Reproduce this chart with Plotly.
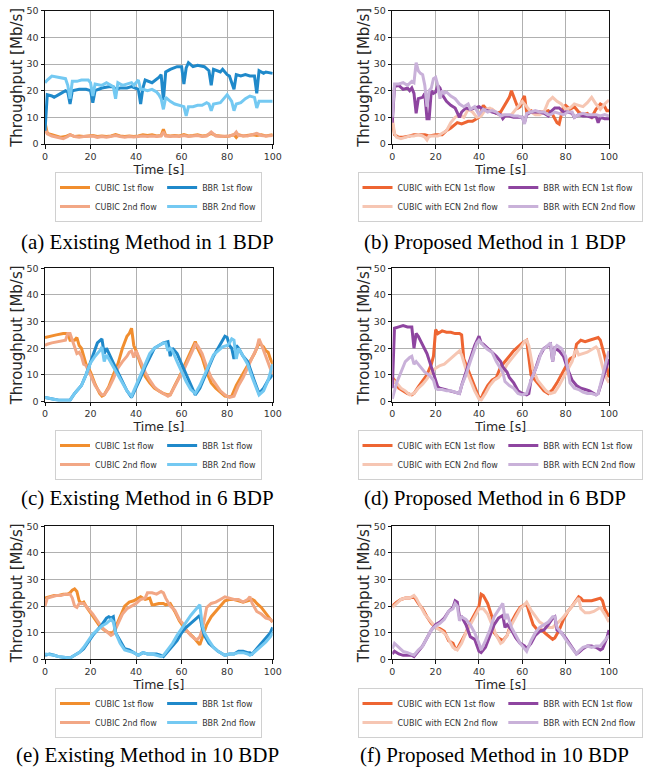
import plotly.graph_objects as go

# ---------------- Panel (a): Existing Method in 1 BDP ----------------
A_CUBIC1_T = [0, 1, 3, 5, 7, 9, 11, 13, 15, 17, 19, 21, 23, 25, 27, 29, 31, 33, 35, 37, 39, 41, 43, 45, 47, 49, 51, 52, 53, 55, 57, 59, 61, 63, 65, 67, 69, 71, 73, 75, 77, 79, 81, 83, 84, 85, 87, 89, 91, 93, 95, 97, 100]
A_CUBIC1_Y = [8, 4, 3.5, 3, 2.5, 2.8, 3.5, 2.8, 3, 2.8, 3, 3.2, 2.8, 3, 2.8, 3, 3.5, 3, 2.8, 3, 2.8, 3, 3.5, 3.2, 3.5, 3, 3.2, 5.5, 3.2, 3, 3.2, 3, 3.5, 3, 3.2, 3.5, 3, 3.2, 4, 3.2, 3, 2.8, 3, 3.5, 2.5, 3.5, 3, 3.2, 3.5, 3.2, 3.5, 3, 3.5]
A_CUBIC2_T = [0, 1, 3, 5, 8, 10, 11, 13, 15, 17, 19, 21, 23, 25, 27, 29, 31, 33, 35, 37, 39, 41, 43, 45, 47, 49, 51, 52, 53, 55, 57, 59, 61, 63, 65, 67, 69, 71, 73, 75, 77, 79, 81, 83, 84, 85, 87, 89, 91, 93, 95, 97, 100]
A_CUBIC2_Y = [6, 3.8, 3, 2.5, 2, 2.8, 3.5, 2.8, 2.5, 2.8, 2.8, 3, 2.5, 2.8, 2.5, 2.8, 3.2, 2.8, 2.5, 2.8, 2.6, 2.8, 3, 2.8, 3, 2.8, 3, 4.5, 3, 2.8, 3, 2.8, 3.2, 2.8, 3, 3.2, 2.8, 3, 4.5, 3, 2.8, 2.8, 3, 3.5, 4.5, 3.2, 3, 3, 3.5, 4, 3.2, 3, 3.2]
A_BBR1_T = [0, 1, 3, 4, 7, 9, 10, 11, 12, 15, 18, 20, 21, 22, 25, 28, 30, 31, 33, 36, 38, 40, 41, 42, 43, 44, 47, 50, 51, 52, 53, 55, 58, 60, 61, 62, 63, 65, 67, 70, 72, 73, 74, 77, 78, 80, 81, 83, 84, 86, 88, 90, 92, 93, 94, 96, 97, 100]
A_BBR1_Y = [5, 18.5, 18, 17.5, 19, 20, 19.5, 15, 20, 20.5, 20.5, 20, 15.5, 20, 21, 21.5, 21.5, 20.5, 21, 21, 21.5, 21, 20.5, 15, 21, 24, 23, 25, 26, 16.5, 27, 28, 29, 29, 22.5, 28.5, 30.5, 29, 29.5, 29, 27.5, 22, 28, 27, 28, 26, 25.5, 20.5, 26, 25.5, 26, 25.5, 25.5, 19, 27.5, 26.5, 27, 26.5]
A_BBR2_T = [0, 1, 3, 6, 9, 10, 11, 12, 14, 16, 19, 20, 21, 22, 25, 27, 29, 30, 31, 32, 34, 36, 38, 39, 41, 42, 43, 45, 47, 49, 50, 51, 52, 53, 55, 57, 59, 61, 62, 63, 65, 67, 69, 71, 72, 73, 74, 77, 79, 80, 82, 83, 84, 86, 88, 90, 92, 93, 94, 97, 100]
A_BBR2_Y = [23, 24, 25.5, 25, 24.5, 22, 17, 23.5, 23.5, 24, 24, 23, 18, 22.5, 22, 23, 22, 21.5, 17, 23, 22, 22.5, 23, 22, 24, 20.5, 20.5, 20, 20.5, 19.5, 18.5, 17, 13, 17.5, 16, 15, 14.5, 14, 10.5, 14, 14, 14.5, 14.5, 15.5, 15, 12.5, 15, 15.5, 17.5, 18.5, 16, 12.5, 15, 15.5, 17, 18, 17.5, 13.5, 16, 16, 16]

# ---------------- Panel (b): Proposed Method in 1 BDP ----------------
B_CUBIC1_T = [0, 1, 3, 5, 8, 10, 13, 15, 17, 20, 23, 25, 27, 30, 32, 35, 37, 40, 42, 44, 46, 48, 50, 52, 54, 55, 56, 57, 58, 59, 60, 61, 62, 64, 66, 68, 70, 72, 74, 76, 77, 78, 79, 80, 82, 84, 86, 88, 90, 92, 94, 96, 98, 99, 100]
B_CUBIC1_Y = [8, 3.5, 2.5, 2.5, 3, 3.5, 3.5, 3.5, 3, 3.5, 3.5, 5, 6, 8, 7.5, 8.5, 8.5, 10, 14.5, 12.5, 13, 11.5, 12, 15, 17.5, 20, 18, 16, 13.5, 14, 16.5, 18, 12, 12.5, 11.5, 12, 12, 12.5, 11, 8, 7.5, 11, 14, 14.5, 13, 14, 12, 11, 11.5, 10, 13, 15, 14, 12.5, 12.5]
B_CUBIC2_T = [0, 1, 2, 4, 6, 8, 10, 12, 14, 15, 16, 17, 19, 21, 23, 25, 27, 29, 31, 33, 35, 37, 39, 41, 43, 45, 47, 49, 51, 53, 55, 57, 59, 60, 62, 64, 66, 68, 70, 72, 74, 76, 78, 80, 82, 84, 86, 88, 90, 92, 94, 96, 98, 100]
B_CUBIC2_Y = [10, 4, 2.5, 2, 2.5, 3, 3, 3.5, 3, 2.5, 1.5, 3, 3, 3, 4, 5, 8, 10, 11, 10, 13, 12, 10, 10.5, 13, 13.5, 12.5, 11, 11, 10.5, 11, 13, 15, 16, 14, 12, 11, 11, 12, 16, 17.5, 16, 15, 13, 13.5, 15, 14.5, 14, 15.5, 17.5, 15, 13, 15, 16.5]
B_BBR1_T = [0, 1, 3, 5, 7, 8, 9, 10, 11, 12, 14, 15, 16, 17, 18, 19, 20, 21, 22, 23, 25, 27, 29, 30, 31, 32, 34, 36, 38, 40, 42, 44, 46, 48, 50, 51, 52, 54, 56, 58, 60, 61, 62, 64, 66, 68, 70, 72, 73, 75, 77, 79, 81, 83, 84, 86, 88, 90, 92, 94, 95, 96, 98, 100]
B_BBR1_Y = [8, 21.5, 22, 20.5, 21, 20, 21, 19, 11.5, 17, 17.5, 19, 9.5, 9.5, 20, 19, 19.5, 22, 21, 18.5, 16, 14.5, 13.5, 12, 10, 12, 13.5, 13, 13.5, 14, 13, 12.5, 12, 11.5, 11, 9.5, 10.5, 10.5, 10, 10, 10, 8, 11, 12, 12, 12, 11.5, 10.5, 12, 13.5, 13.5, 12, 12, 11.5, 10, 11, 10.5, 10.5, 10, 10.5, 8, 10, 9.5, 9.5]
B_BBR2_T = [0, 1, 3, 5, 6, 7, 9, 10, 11, 12, 13, 14, 15, 16, 17, 18, 19, 20, 21, 22, 23, 24, 25, 27, 29, 31, 33, 35, 36, 38, 40, 42, 44, 46, 48, 50, 52, 54, 56, 58, 60, 61, 62, 64, 66, 68, 70, 72, 73, 75, 77, 79, 81, 83, 84, 86, 88, 90, 92, 94, 96, 98, 100]
B_BBR2_Y = [10, 22.5, 22.5, 23, 22.5, 22, 23.5, 23, 30.5, 27.5, 26.5, 26, 22, 14, 20, 21, 24.5, 25, 22, 17, 20, 19, 19.5, 18, 17, 15, 14, 15, 13, 14, 11, 13, 12, 12.5, 12, 10.5, 11, 11, 10.5, 10.5, 10, 7.5, 11.5, 12, 12.5, 12, 12, 11, 11, 12, 11.5, 11, 12, 12, 10, 11, 11.5, 11, 11, 11, 10.5, 11, 10.5]

# ---------------- Panel (c): Existing Method in 6 BDP ----------------
C_CUBIC1_T = [0, 2, 5, 8, 10, 11, 13, 14, 15, 16, 17, 18, 20, 22, 24, 25, 26, 28, 30, 32, 34, 36, 37, 38, 39, 40, 42, 44, 46, 48, 50, 52, 54, 55, 57, 60, 62, 64, 66, 67, 69, 71, 73, 75, 77, 79, 81, 82, 84, 86, 88, 90, 92, 94, 96, 97, 98, 99, 100]
C_CUBIC1_Y = [24, 24.5, 25, 25.5, 25.5, 23, 23, 24, 21, 20, 17, 14, 11, 6.5, 3, 2, 2.5, 5.5, 10, 14, 20, 24.5, 25.5, 27.5, 21, 19, 14, 9.5, 7, 5, 4, 3, 2.5, 2.5, 6, 11, 15, 18.5, 22.5, 20, 16.5, 11, 7, 5, 3.5, 2, 1.8, 2, 6, 9, 12, 15, 18, 22, 20.5, 19, 18.5, 16, 14]
C_CUBIC2_T = [0, 1, 3, 6, 9, 10, 11, 12, 13, 14, 15, 16, 17, 18, 20, 22, 24, 25, 26, 28, 30, 32, 34, 36, 37, 38, 39, 40, 41, 42, 44, 46, 48, 50, 52, 54, 55, 57, 59, 61, 63, 65, 66, 67, 69, 71, 73, 75, 77, 79, 81, 83, 85, 87, 89, 91, 93, 94, 95, 97, 99, 100]
C_CUBIC2_Y = [21, 21.5, 22, 22.5, 23, 25.5, 25.5, 23, 20, 18, 18.5, 17, 14, 13.5, 10, 6, 3.5, 2.5, 2.5, 5, 8.5, 12.5, 15, 17, 18.5, 19, 16.5, 19, 17, 15, 11, 8, 5.5, 4, 3, 2, 2.5, 6, 9, 12, 15.5, 19.5, 21.5, 21, 18, 13, 9, 6.5, 4, 2.5, 1.5, 2, 6, 9, 13, 16.5, 20, 23.5, 21.5, 17, 12.5, 10]
C_BBR1_T = [0, 3, 6, 10, 11, 13, 16, 18, 20, 22, 23, 25, 26, 27, 28, 30, 32, 34, 36, 38, 40, 42, 44, 46, 48, 50, 52, 54, 55, 56, 58, 60, 62, 64, 66, 68, 70, 72, 74, 76, 78, 79, 80, 81, 82, 83, 84, 85, 87, 89, 91, 93, 94, 96, 98, 100]
C_BBR1_Y = [1.5, 1, 0.5, 0.5, 0.5, 3, 6, 10, 14.5, 19, 22, 23.5, 18, 20, 18, 14.5, 11, 7.5, 4, 1.5, 5, 9, 13, 16.5, 20, 21, 22, 22.5, 17, 20, 18, 14, 10, 6, 2.5, 5, 9, 13, 17, 20, 23, 24.5, 24, 21, 20, 16, 21, 20, 17, 15, 10, 5, 3, 5, 8, 10]
C_BBR2_T = [0, 3, 6, 10, 11, 13, 16, 18, 20, 22, 24, 25, 26, 27, 28, 30, 32, 34, 36, 38, 40, 42, 44, 46, 48, 50, 52, 53, 54, 55, 56, 58, 60, 62, 64, 66, 68, 70, 72, 74, 76, 78, 80, 81, 82, 83, 84, 85, 87, 89, 91, 93, 94, 96, 98, 100]
C_BBR2_Y = [1.5, 1, 0.5, 0.5, 0.5, 3, 6, 10, 14.5, 17, 19, 20.5, 15, 17.5, 16, 13, 10, 7, 4, 2, 6, 10.5, 14.5, 18, 20, 21, 22, 22, 19, 20, 19, 15, 11, 7.5, 4.5, 3, 6, 10, 14, 17.5, 19, 20.5, 21, 22, 23.5, 23, 16, 20, 17, 14, 9, 5, 2.5, 4, 8, 14]

# ---------------- Panel (d): Proposed Method in 6 BDP ----------------
D_CUBIC1_T = [0, 1, 3, 5, 7, 9, 10, 12, 14, 16, 18, 19, 20, 21, 23, 25, 27, 29, 31, 32, 33, 35, 37, 39, 40, 41, 42, 44, 46, 48, 50, 52, 54, 56, 58, 60, 62, 63, 64, 66, 68, 70, 72, 74, 76, 78, 80, 82, 84, 85, 87, 89, 91, 93, 95, 96, 98, 100]
D_CUBIC1_Y = [9, 8, 5, 4, 3, 2.5, 3, 5.5, 8, 10, 14, 17, 27, 25.5, 26.5, 26, 26, 25.5, 25.5, 25, 16, 12, 8, 3.5, 1.5, 1, 3, 6, 8, 9, 13, 15, 17, 19, 20.5, 22, 23, 17, 10, 8, 6, 4, 3, 4.5, 7, 10, 13, 16, 17, 21.5, 23, 22.5, 23, 23.5, 24, 23, 17, 9]
D_CUBIC2_T = [0, 2, 4, 6, 8, 10, 12, 14, 16, 18, 20, 22, 24, 26, 28, 30, 31, 32, 34, 36, 38, 40, 41, 43, 45, 47, 49, 51, 53, 55, 57, 59, 61, 62, 63, 65, 67, 69, 71, 73, 75, 77, 79, 81, 83, 84, 85, 86, 88, 90, 92, 94, 95, 96, 98, 100]
D_CUBIC2_Y = [8, 7, 5, 4, 2.5, 3, 5, 6.5, 8.5, 11, 12.5, 13.5, 14, 15.5, 17, 18.5, 19, 17.5, 12, 8, 4, 1, 0.5, 3, 6, 8, 9, 11, 14, 16, 18, 20, 22.5, 23, 21, 12, 8, 6, 4, 3, 3.5, 6, 9, 12, 15, 18, 19.5, 17.5, 18, 18.5, 19.5, 20.5, 19.5, 16, 10, 7]
D_BBR1_T = [0, 1, 3, 5, 7, 8, 9, 10, 11, 12, 14, 16, 18, 20, 21, 22, 24, 26, 28, 30, 31, 32, 34, 36, 38, 40, 41, 42, 44, 46, 48, 50, 51, 53, 54, 56, 58, 60, 62, 63, 64, 66, 68, 70, 72, 73, 74, 75, 77, 79, 81, 83, 85, 87, 89, 91, 93, 94, 95, 97, 99, 100]
D_BBR1_Y = [5, 27.5, 28, 28.5, 28, 28, 28, 20, 25.5, 24.5, 21, 18, 13, 8, 5.5, 5, 4.5, 4, 3.5, 3, 3, 6, 11, 16, 21, 24.5, 22, 21.5, 20, 18.5, 17, 15, 13, 11, 9, 7, 4, 3, 2.5, 3, 8, 12, 17, 20, 21, 21.5, 15, 20, 19, 17, 12, 8, 6, 5, 4.5, 4, 3, 2.5, 3, 8, 13, 16]
D_BBR2_T = [0, 2, 4, 6, 8, 9, 10, 11, 13, 15, 17, 19, 20, 21, 23, 25, 27, 29, 31, 32, 34, 36, 38, 39, 40, 42, 44, 46, 48, 50, 51, 52, 54, 56, 58, 60, 62, 64, 66, 67, 69, 71, 73, 74, 75, 76, 78, 80, 81, 82, 84, 86, 88, 90, 92, 94, 95, 97, 99, 100]
D_BBR2_Y = [1, 7, 11, 15, 16.5, 17, 14, 15, 13, 11, 10, 8, 5, 4.5, 4.5, 4, 4, 3.5, 3, 6, 10, 15, 20, 22, 23, 21, 19.5, 18.5, 15, 12.5, 11, 7.5, 6, 5, 3, 2.5, 3, 8, 12, 14, 19, 20.5, 22, 15, 20, 21, 20, 17, 11, 7, 5, 4.5, 3.5, 3, 3, 2.5, 3, 10, 16, 19]

# ---------------- Panel (e): Existing Method in 10 BDP ----------------
E_CUBIC1_T = [0, 2, 4, 6, 8, 10, 11, 12, 13, 14, 15, 16, 17, 18, 20, 22, 24, 26, 28, 30, 31, 33, 35, 37, 39, 41, 42, 44, 46, 47, 48, 50, 52, 53, 55, 57, 59, 61, 63, 65, 67, 68, 69, 71, 73, 75, 77, 79, 81, 83, 85, 87, 89, 91, 92, 93, 95, 97, 99, 100]
E_CUBIC1_Y = [23, 23.5, 24, 24, 24.5, 24.5, 25, 26, 26.5, 25.5, 22, 21, 21.5, 20, 17.5, 15, 12.5, 11, 10, 10, 12, 16, 20, 21.5, 22, 23, 23.5, 22.5, 23, 20.5, 20.5, 21, 21, 20.5, 21, 18, 14.5, 12, 10, 8.5, 6.5, 5.5, 8, 13, 16, 18, 20, 22, 22.5, 22.5, 22, 21.5, 22, 22.5, 22, 21, 19.5, 17, 15, 14]
E_CUBIC2_T = [0, 1, 3, 5, 7, 9, 11, 12, 13, 14, 15, 17, 19, 21, 23, 25, 27, 29, 30, 32, 34, 36, 38, 40, 42, 44, 45, 47, 49, 51, 52, 53, 55, 57, 59, 61, 62, 64, 66, 67, 68, 69, 70, 71, 73, 75, 77, 79, 81, 83, 85, 87, 89, 90, 91, 93, 95, 97, 99, 100]
E_CUBIC2_Y = [20, 23, 23.5, 24, 24, 24.5, 24.5, 23, 20, 19.5, 21, 21, 19, 17, 14.5, 12, 10.5, 9, 9.5, 13, 17, 19, 20, 21, 22.5, 23, 25, 25, 24.5, 25.5, 25, 23, 20, 18.5, 15, 13, 11, 9, 7.5, 7.5, 8.5, 11, 15, 19.5, 21, 21.5, 22.5, 23.5, 23, 22.5, 22.5, 21.5, 22.5, 23.5, 21, 18, 17, 15.5, 15, 14]
E_BBR1_T = [0, 2, 4, 6, 8, 10, 11, 13, 15, 17, 19, 21, 23, 25, 27, 28, 29, 30, 31, 33, 35, 37, 39, 41, 43, 45, 47, 49, 51, 52, 54, 56, 58, 60, 62, 64, 66, 67, 68, 69, 70, 72, 74, 76, 78, 79, 81, 83, 85, 87, 89, 90, 91, 93, 95, 97, 99, 100]
E_BBR1_Y = [1.5, 2, 1.5, 1, 0.8, 0.5, 0.5, 1.5, 2.5, 4, 6.5, 9, 11, 13, 15.5, 16, 15.5, 16, 10, 7, 4, 3.5, 2.5, 1.5, 2.5, 2, 2, 2, 1.5, 1, 3, 5, 7, 10, 12, 13.5, 15, 16, 16.5, 12, 9, 6, 4.5, 3, 2, 1.5, 2, 2, 3, 3, 2.5, 2.5, 2, 4, 6, 8, 10, 12]
E_BBR2_T = [0, 2, 4, 6, 8, 10, 11, 13, 15, 17, 19, 21, 23, 25, 27, 29, 30, 31, 33, 35, 37, 39, 41, 43, 45, 47, 49, 51, 52, 54, 56, 58, 60, 62, 64, 66, 67, 68, 69, 70, 72, 74, 76, 78, 79, 81, 83, 85, 87, 89, 90, 91, 93, 95, 97, 99, 100]
E_BBR2_Y = [2, 1.8, 1.5, 1, 0.8, 0.5, 0.5, 1.5, 2.5, 4.5, 7, 9.5, 11, 12.5, 13.5, 15, 14, 10, 6, 3.5, 3, 2.5, 1.5, 2.5, 2, 2, 1.5, 1, 1.5, 4, 6, 9, 11.5, 14, 16.5, 18.5, 19.5, 20.5, 13, 10, 7, 4.5, 3, 2, 1.5, 2, 2, 2.5, 2.5, 2, 1.5, 2, 3.5, 5, 6.5, 8.5, 10]

# ---------------- Panel (f): Proposed Method in 10 BDP ----------------
F_CUBIC1_T = [0, 2, 4, 6, 8, 10, 12, 14, 16, 18, 20, 22, 24, 26, 28, 29, 30, 32, 34, 36, 38, 40, 41, 42, 44, 46, 47, 49, 50, 51, 53, 55, 57, 59, 61, 62, 63, 65, 67, 69, 71, 73, 74, 75, 77, 79, 81, 83, 85, 86, 87, 88, 90, 92, 94, 96, 97, 98, 100]
F_CUBIC1_Y = [20, 21.5, 22.5, 23, 23, 23.5, 21, 19, 16, 13.5, 12, 11.5, 10.5, 7, 6, 4, 4, 7, 10, 14, 17, 20, 24.5, 24, 21, 16, 10, 8, 7.5, 7, 9, 14, 17, 19.5, 20.5, 21, 18, 13, 11, 11, 9.5, 8, 7.5, 8, 11, 15, 18, 20, 22.5, 23.5, 23, 22, 22, 22, 22.5, 23, 22, 19, 16]
F_CUBIC2_T = [0, 2, 4, 6, 8, 10, 11, 13, 15, 17, 19, 21, 23, 25, 27, 28, 29, 30, 32, 34, 36, 38, 40, 42, 44, 46, 48, 50, 51, 53, 55, 57, 59, 61, 62, 64, 66, 68, 70, 72, 74, 76, 78, 80, 82, 84, 85, 86, 87, 89, 91, 93, 95, 96, 98, 100]
F_CUBIC2_Y = [19.5, 21, 22.5, 23, 23, 24, 23, 20, 17, 15, 13, 11.5, 10.5, 9, 6, 4.5, 4, 3.5, 6, 10, 13, 16, 19, 19, 17, 13, 9, 6, 6.5, 9, 13, 16, 19, 20.5, 21.5, 18.5, 16, 14, 13, 12, 12, 13.5, 15, 17, 19, 21, 22, 23, 19, 17.5, 17.5, 18, 19, 19.5, 17, 14]
F_BBR1_T = [0, 1, 3, 5, 7, 9, 10, 12, 14, 16, 18, 20, 22, 24, 26, 28, 29, 30, 31, 32, 34, 36, 38, 40, 41, 43, 45, 47, 49, 51, 52, 53, 55, 57, 59, 61, 62, 64, 66, 68, 70, 72, 74, 75, 76, 78, 80, 82, 84, 85, 86, 88, 90, 92, 94, 96, 97, 99, 100]
F_BBR1_Y = [2, 3, 2, 1.5, 1.5, 1.5, 1, 3, 5, 8, 11, 13, 14, 15.5, 18, 19.5, 22, 21.5, 16, 16, 13, 8.5, 7.5, 3, 2.5, 4.5, 9, 13, 15.5, 16.5, 12, 13, 11, 8, 6, 5, 4, 6, 9, 10.5, 11, 13, 15.5, 16, 11, 10, 8, 5.5, 3.5, 2, 2.5, 4, 5, 5, 4.5, 3.5, 4, 8, 11]
F_BBR2_T = [0, 1, 3, 5, 7, 9, 10, 12, 14, 16, 18, 20, 22, 24, 26, 28, 29, 30, 31, 32, 34, 36, 38, 40, 41, 43, 45, 47, 49, 50, 51, 52, 53, 55, 57, 59, 61, 62, 64, 66, 68, 70, 72, 74, 75, 76, 78, 80, 82, 84, 85, 86, 88, 90, 92, 94, 96, 97, 99, 100]
F_BBR2_Y = [4, 6, 4.5, 3, 2.5, 2, 1.5, 3.5, 5, 8, 11, 12.5, 13.5, 15, 18, 19, 21, 20, 14.5, 16, 15, 13, 10, 6, 3.5, 7, 11, 16, 18.5, 19.5, 21, 15, 17, 12, 9, 6, 4, 3, 7, 10, 12, 13, 14, 16, 16, 12, 10, 7.5, 5, 3, 2, 3, 4.5, 5, 4.5, 5, 5, 6, 8, 9]

# ---------------- Labels ----------------
EXIST_NAMES = ["CUBIC 1st flow", "CUBIC 2nd flow", "BBR 1st flow", "BBR 2nd flow"]
PROP_NAMES = ["CUBIC with ECN 1st flow", "CUBIC with ECN 2nd flow",
              "BBR with ECN 1st flow", "BBR with ECN 2nd flow"]
CAPTIONS = ["(a) Existing Method in 1 BDP", "(b) Proposed Method in 1 BDP",
            "(c) Existing Method in 6 BDP", "(d) Proposed Method in 6 BDP",
            "(e) Existing Method in 10 BDP", "(f) Proposed Method in 10 BDP"]
X_TITLE = "Time [s]"
Y_TITLE = "Throughput [Mb/s]"

EXIST_COLORS = ["#F18E2F", "#F2A785", "#1F89CA", "#74C9F2"]
PROP_COLORS = ["#EE6532", "#F6C6B3", "#8E45A0", "#C9B1D9"]

W, H = 648, 767

PANELS = [
    ([(A_CUBIC1_T, A_CUBIC1_Y), (A_CUBIC2_T, A_CUBIC2_Y), (A_BBR1_T, A_BBR1_Y), (A_BBR2_T, A_BBR2_Y)], False),
    ([(B_CUBIC1_T, B_CUBIC1_Y), (B_CUBIC2_T, B_CUBIC2_Y), (B_BBR1_T, B_BBR1_Y), (B_BBR2_T, B_BBR2_Y)], True),
    ([(C_CUBIC1_T, C_CUBIC1_Y), (C_CUBIC2_T, C_CUBIC2_Y), (C_BBR1_T, C_BBR1_Y), (C_BBR2_T, C_BBR2_Y)], False),
    ([(D_CUBIC1_T, D_CUBIC1_Y), (D_CUBIC2_T, D_CUBIC2_Y), (D_BBR1_T, D_BBR1_Y), (D_BBR2_T, D_BBR2_Y)], True),
    ([(E_CUBIC1_T, E_CUBIC1_Y), (E_CUBIC2_T, E_CUBIC2_Y), (E_BBR1_T, E_BBR1_Y), (E_BBR2_T, E_BBR2_Y)], False),
    ([(F_CUBIC1_T, F_CUBIC1_Y), (F_CUBIC2_T, F_CUBIC2_Y), (F_BBR1_T, F_BBR1_Y), (F_BBR2_T, F_BBR2_Y)], True),
]

# pixel geometry of plot areas
COL_X = [(45, 272.7), (392.3, 609)]
ROW_Y = [(10.7, 144), (268.3, 401.5), (526.3, 659.3)]
LEG_CX = [158.5, 500]
LEG_TOP = [172, 430, 688]
CAP_CX = [147.5, 494.5]
CAP_CY = [242, 498, 755]

fig = go.Figure()
layout = dict(
    width=W, height=H,
    margin=dict(l=0, r=0, t=0, b=0, autoexpand=False),
    paper_bgcolor="white", plot_bgcolor="white",
    font=dict(family="DejaVu Sans", color="#333333"),
    annotations=[],
)

for i, (series, proposed) in enumerate(PANELS):
    r, c = divmod(i, 2)
    k = i + 1
    xa = "xaxis" if k == 1 else f"xaxis{k}"
    ya = "yaxis" if k == 1 else f"yaxis{k}"
    xref = "x" if k == 1 else f"x{k}"
    yref = "y" if k == 1 else f"y{k}"
    leg = "legend" if k == 1 else f"legend{k}"
    names = PROP_NAMES if proposed else EXIST_NAMES
    colors = PROP_COLORS if proposed else EXIST_COLORS
    for j, (t, y) in enumerate(series):
        fig.add_trace(go.Scatter(
            x=t, y=y, mode="lines", name=names[j],
            line=dict(color=colors[j], width=3),
            xaxis=xref, yaxis=yref, legend=leg,
            legendgroup=f"p{k}_{'cubic' if j < 2 else 'bbr'}",
            showlegend=True, hoverinfo="skip",
        ))
    x0, x1 = COL_X[c]
    y0, y1 = ROW_Y[r]
    common = dict(
        showgrid=True, gridcolor="#b0b0b0", gridwidth=1,
        showline=True, mirror=True, linecolor="#111111", linewidth=1,
        ticks="outside", ticklen=3.5, tickcolor="#111111", tickwidth=1,
        tickfont=dict(size=9.5, color="#333333", family="DejaVu Sans"),
        zeroline=False, fixedrange=True, automargin=True,
    )
    layout[xa] = dict(common, domain=[x0 / W, x1 / W], anchor=yref,
                      range=[0, 100], dtick=20, tick0=0,
                      title=dict(text=X_TITLE, standoff=0,
                                 font=dict(size=12.5, color="#262626")))
    layout[ya] = dict(common, domain=[1 - y1 / H, 1 - y0 / H], anchor=xref,
                      range=[0, 50], dtick=10, tick0=0,
                      title=dict(text=Y_TITLE, standoff=0,
                                 font=dict(size=15, color="#262626")))
    layout[leg] = dict(
        orientation="h", x=LEG_CX[c] / W, y=1 - LEG_TOP[r] / H,
        xanchor="center", yanchor="top", xref="paper", yref="paper",
        bgcolor="white", bordercolor="#d0d0d0", borderwidth=1,
        font=dict(size=8, color="#333333", family="DejaVu Sans"),
        tracegroupgap=0, itemclick=False, itemdoubleclick=False,
    )
    layout["annotations"].append(dict(
        text=CAPTIONS[i], x=CAP_CX[c] / W, y=1 - CAP_CY[r] / H,
        xref="paper", yref="paper", xanchor="center", yanchor="middle",
        showarrow=False, font=dict(family="Liberation Serif", size=21, color="black"),
    ))

fig.update_layout(**layout)
fig.write_html("out.html")
